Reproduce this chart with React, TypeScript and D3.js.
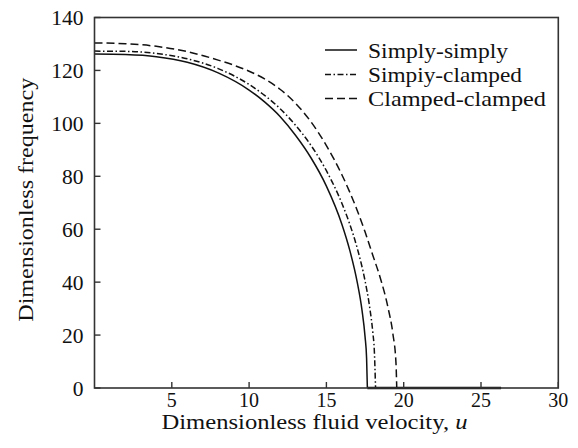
import React, { useRef, useEffect } from 'react';
import * as d3 from 'd3';

// readings: [u, frequency]
const simplySimply: [number, number][] = [
  [0, 126.2], [2, 126.0], [4, 125.2], [6, 123.1], [8, 119.1], [10, 112.6], [11, 108.1],
  [12, 102.6], [13, 95.5], [14, 87.0], [15, 76.3], [16, 61.9], [16.5, 52.3], [17, 39.8],
  [17.3, 29.5], [17.5, 19.4], [17.6, 11.2], [17.65, 0],
];
const simplySimplyTail: [number, number][] = [[17.65, 0], [26.3, 0]];

const simpiyClamped: [number, number][] = [
  [0, 127.3], [2, 127.2], [4, 126.4], [6, 124.4], [8, 120.7], [10, 114.7], [11, 110.6],
  [12, 105.6], [13, 99.3], [14, 91.7], [15, 82.1], [16, 69.8], [16.5, 62.1], [17, 52.7],
  [17.5, 40.5], [17.8, 30.5], [18, 21.1], [18.1, 14.1], [18.18, 0],
];

const clampedClamped: [number, number][] = [
  [0, 130.4], [2, 130.1], [4, 129.1], [6, 127.1], [8, 123.9], [9, 122.0], [10, 119.7],
  [11, 116.8], [12, 112.9], [13, 107.6], [14, 100.6], [15, 91.6], [16, 80.6], [17, 67.0],
  [17.5, 59.0], [18, 50.2], [18.5, 41.3], [19, 30.0], [19.3, 20.5], [19.5, 9.5], [19.55, 0],
];

const seriesNames = ['Simply-simply', 'Simpiy-clamped', 'Clamped-clamped'];
const seriesDash = ['none', '6,2.5,1.5,2.5', '8,4'];

const xTicks = [5, 10, 15, 20, 25, 30];
const yTicks = [0, 20, 40, 60, 80, 100, 120, 140];

const W = 578;
const H = 448;
const FONT = "'Liberation Serif', 'Times New Roman', Times, serif";

const App = () => {
  const svgRef = useRef<SVGSVGElement>(null);

  useEffect(() => {
    const svg = d3.select(svgRef.current);
    svg.selectAll('*').remove();

    const left = 94.5, right = 558.3, top = 17.5, bottom = 388;
    const x = d3.scaleLinear().domain([0, 30]).range([left, right]);
    const y = d3.scaleLinear().domain([0, 140]).range([bottom, top]);

    const line = d3.line<[number, number]>()
      .x(d => x(d[0]))
      .y(d => y(d[1]))
      .curve(d3.curveMonotoneX);

    const all = [simplySimply, simpiyClamped, clampedClamped];
    all.forEach((s, i) => {
      svg.append('path')
        .datum(s)
        .attr('fill', 'none')
        .attr('stroke', '#111')
        .attr('stroke-width', 1.5)
        .attr('stroke-dasharray', seriesDash[i])
        .attr('d', line);
    });

    // solid branch runs on along zero
    svg.append('path')
      .datum(simplySimplyTail)
      .attr('fill', 'none')
      .attr('stroke', '#111')
      .attr('stroke-width', 2.5)
      .attr('d', d3.line<[number, number]>().x(d => x(d[0])).y(d => y(d[1])));

    // frame
    svg.append('rect')
      .attr('x', left)
      .attr('y', top)
      .attr('width', right - left)
      .attr('height', bottom - top)
      .attr('fill', 'none')
      .attr('stroke', '#333')
      .attr('stroke-width', 1.6);

    // ticks (inward)
    const tickLen = 6;
    svg.append('g')
      .selectAll('line')
      .data(yTicks)
      .enter()
      .append('line')
      .attr('x1', left)
      .attr('x2', left + tickLen)
      .attr('y1', d => y(d))
      .attr('y2', d => y(d))
      .attr('stroke', '#333')
      .attr('stroke-width', 1.4);

    svg.append('g')
      .selectAll('line')
      .data(xTicks)
      .enter()
      .append('line')
      .attr('x1', d => x(d))
      .attr('x2', d => x(d))
      .attr('y1', bottom)
      .attr('y2', bottom - tickLen)
      .attr('stroke', '#333')
      .attr('stroke-width', 1.4);

    // tick labels
    svg.append('g')
      .selectAll('text')
      .data(yTicks)
      .enter()
      .append('text')
      .attr('x', left - 11)
      .attr('y', d => y(d) + 7.5)
      .attr('text-anchor', 'end')
      .style('font-family', FONT)
      .style('font-size', '21.5px')
      .attr('fill', '#111')
      .text(d => d);

    svg.append('g')
      .selectAll('text')
      .data(xTicks)
      .enter()
      .append('text')
      .attr('x', d => x(d))
      .attr('y', 407)
      .attr('text-anchor', 'middle')
      .style('font-family', FONT)
      .style('font-size', '20px')
      .attr('fill', '#111')
      .text(d => d);

    // axis titles
    const xt = svg.append('text')
      .attr('x', 161.5)
      .attr('y', 429)
      .style('font-family', FONT)
      .style('font-size', '20px')
      .attr('fill', '#111')
      .attr('textLength', 306)
      .attr('lengthAdjust', 'spacingAndGlyphs');
    xt.append('tspan').text('Dimensionless fluid velocity, ');
    xt.append('tspan').attr('font-style', 'italic').text('u');

    svg.append('text')
      .attr('transform', `translate(33,${(top + bottom) / 2 - 3}) rotate(-90)`)
      .attr('text-anchor', 'middle')
      .style('font-family', FONT)
      .style('font-size', '22px')
      .attr('fill', '#111')
      .attr('textLength', 244)
      .attr('lengthAdjust', 'spacingAndGlyphs')
      .text('Dimensionless frequency');

    // legend
    const legendRows = [50, 74.5, 98.5];
    const legendWidths = [140, 154, 178];
    seriesNames.forEach((name, i) => {
      const row = svg.append('g').attr('transform', `translate(0,${legendRows[i]})`);
      row.append('line')
        .attr('x1', 325)
        .attr('x2', 357)
        .attr('y1', 0)
        .attr('y2', 0)
        .attr('stroke', '#111')
        .attr('stroke-width', 1.5)
        .attr('stroke-dasharray', seriesDash[i]);
      row.append('text')
        .attr('x', 368)
        .attr('y', 7.5)
        .style('font-family', FONT)
        .style('font-size', '22px')
        .attr('fill', '#111')
        .attr('textLength', legendWidths[i])
        .attr('lengthAdjust', 'spacingAndGlyphs')
        .text(name);
    });
  }, []);

  return (
    <svg
      ref={svgRef}
      width={W}
      height={H}
      style={{ position: 'absolute', left: 0, top: 0, background: '#fff' }}
    />
  );
};

export default App;
